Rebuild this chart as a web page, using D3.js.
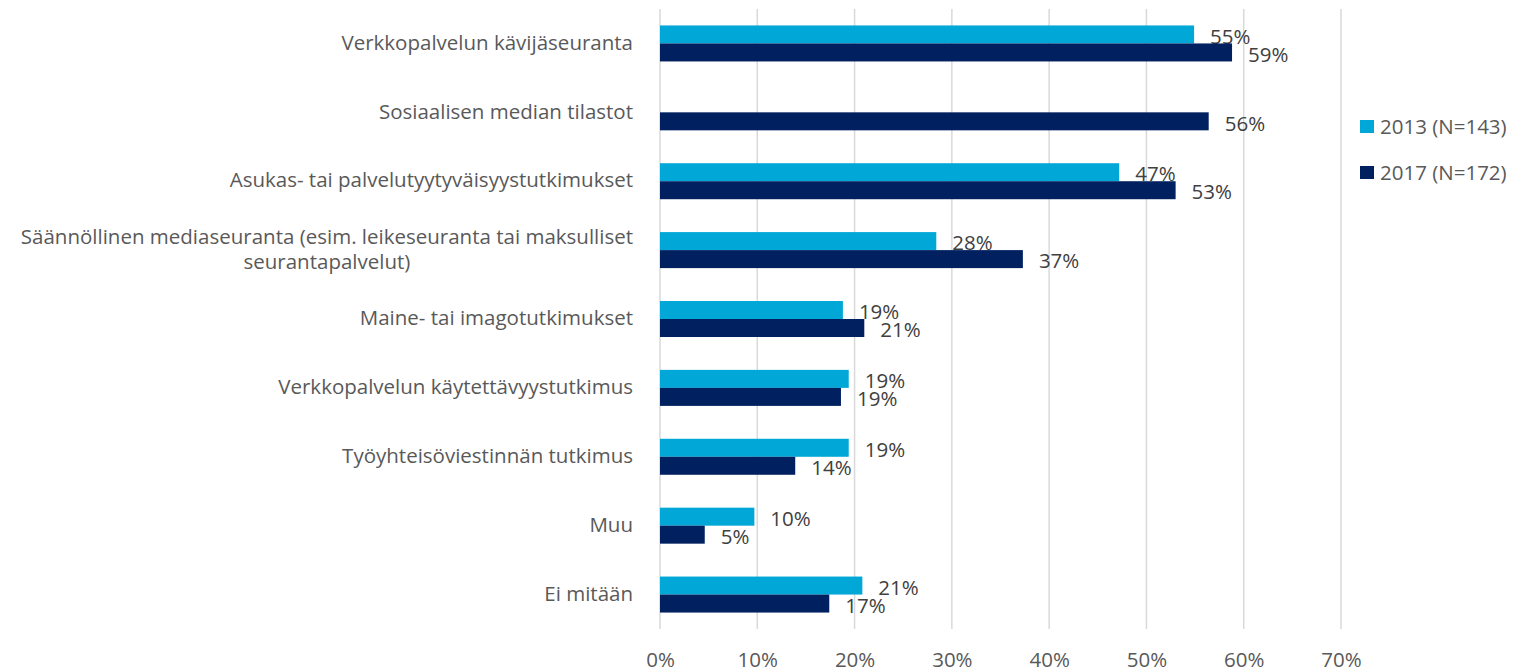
<!DOCTYPE html>
<html>
<head>
<meta charset="utf-8">
<script src="https://cdn.jsdelivr.net/npm/d3@7"></script>
<style>
	body { margin: 0; background: #fff; }
	text { font-family: "Open Sans", Lato, sans-serif; }
</style>
</head>
<body>
<script>
'use strict';

// chart data
const categories = [
	"Verkkopalvelun kävijäseuranta",
	"Sosiaalisen median tilastot",
	"Asukas- tai palvelutyytyväisyystutkimukset",
	"Säännöllinen mediaseuranta (esim. leikeseuranta tai maksulliset|seurantapalvelut)",
	"Maine- tai imagotutkimukset",
	"Verkkopalvelun käytettävyystutkimus",
	"Työyhteisöviestinnän tutkimus",
	"Muu",
	"Ei mitään"
];
const seriesNames = ["2013 (N=143)", "2017 (N=172)"];
const values2013 = [54.9, null, 47.2, 28.4, 18.8, 19.4, 19.4, 9.7, 20.8];
const values2017 = [58.8, 56.4, 53.0, 37.3, 21.0, 18.6, 13.9, 4.6, 17.4];
const tickValues = [0, 10, 20, 30, 40, 50, 60, 70];

const params = {
	width: 1514,
	height: 670,
	left: 660,
	right: 1341,
	top: 9,
	bottom: 629,
	font: "20.5px",
	colors: ["#00A7D7", "#002060"]
};

const svg = d3.select("body").append("svg")
	.attr("width", params.width)
	.attr("height", params.height);

const xScale = d3.scaleLinear()
	.domain([0, 70])
	.range([params.left, params.right]);

const pad = 1 - 36 / ((params.bottom - params.top) / categories.length);
const yScale = d3.scaleBand()
	.domain(categories)
	.range([params.top, params.bottom])
	.paddingInner(pad)
	.paddingOuter(pad / 2);

const subScale = d3.scaleBand()
	.domain(seriesNames)
	.range([0, yScale.bandwidth()]);

// gridlines
svg.append("g")
	.selectAll("line")
	.data(tickValues)
	.join("line")
		.attr("x1", d => xScale(d))
		.attr("x2", d => xScale(d))
		.attr("y1", params.top)
		.attr("y2", params.bottom)
		.attr("stroke", "#D9D9D9")
		.attr("stroke-width", 1.5);

// x axis labels
const xAxis = svg.append("g")
	.attr("transform", `translate(0, ${params.bottom})`)
	.call(d3.axisBottom(xScale).tickValues(tickValues).tickFormat(d => d + "%").tickSize(0));
xAxis.select(".domain").remove();
xAxis.selectAll("text")
	.attr("y", 31)
	.attr("dy", "0.35em")
	.attr("fill", "#595959")
	.style("font-family", "'Open Sans', sans-serif")
	.style("font-size", params.font);

// category labels (right aligned block, lines centred within it)
const catG = svg.append("g");
categories.forEach(c => {
	const lines = c.split("|");
	const cy = yScale(c) + yScale.bandwidth() / 2 - 1;
	const g = catG.append("g");
	const texts = lines.map((l, i) => g.append("text")
		.attr("y", cy + (i - (lines.length - 1) / 2) * 25)
		.attr("dy", "0.35em")
		.attr("fill", "#595959")
		.style("font-size", params.font)
		.text(l));
	const maxW = d3.max(texts, t => t.node().getComputedTextLength());
	texts.forEach(t => t.attr("text-anchor", "middle").attr("x", params.left - 27 - maxW / 2));
});

// bars
const table = categories.map((c, i) => ({ cat: c, vals: [values2013[i], values2017[i]] }));
const rows = svg.append("g")
	.selectAll("g")
	.data(table)
	.join("g")
		.attr("transform", d => `translate(0, ${yScale(d.cat)})`);

const cells = rows.selectAll("g")
	.data(d => d.vals.map((v, j) => ({ v: v, s: seriesNames[j], j: j })).filter(e => e.v !== null))
	.join("g");

cells.append("rect")
	.attr("x", xScale(0))
	.attr("y", d => subScale(d.s))
	.attr("width", d => xScale(d.v) - xScale(0))
	.attr("height", subScale.bandwidth())
	.attr("fill", d => params.colors[d.j]);

cells.append("text")
	.attr("x", d => xScale(d.v) + 16)
	.attr("y", d => subScale(d.s) + subScale.bandwidth() / 2 + 2)
	.attr("dy", "0.35em")
	.attr("fill", "#404040")
	.style("font-size", params.font)
	.text(d => Math.round(d.v) + "%");

// legend
const legend = svg.append("g")
	.selectAll("g")
	.data(seriesNames)
	.join("g")
		.attr("transform", (d, i) => `translate(1360, ${120 + i * 46})`);
legend.append("rect")
	.attr("width", 14)
	.attr("height", 13)
	.attr("fill", (d, i) => params.colors[i]);
legend.append("text")
	.attr("x", 20)
	.attr("y", 7)
	.attr("dy", "0.35em")
	.attr("fill", "#595959")
	.style("font-size", params.font)
	.text(d => d);
</script>
</body>
</html>
